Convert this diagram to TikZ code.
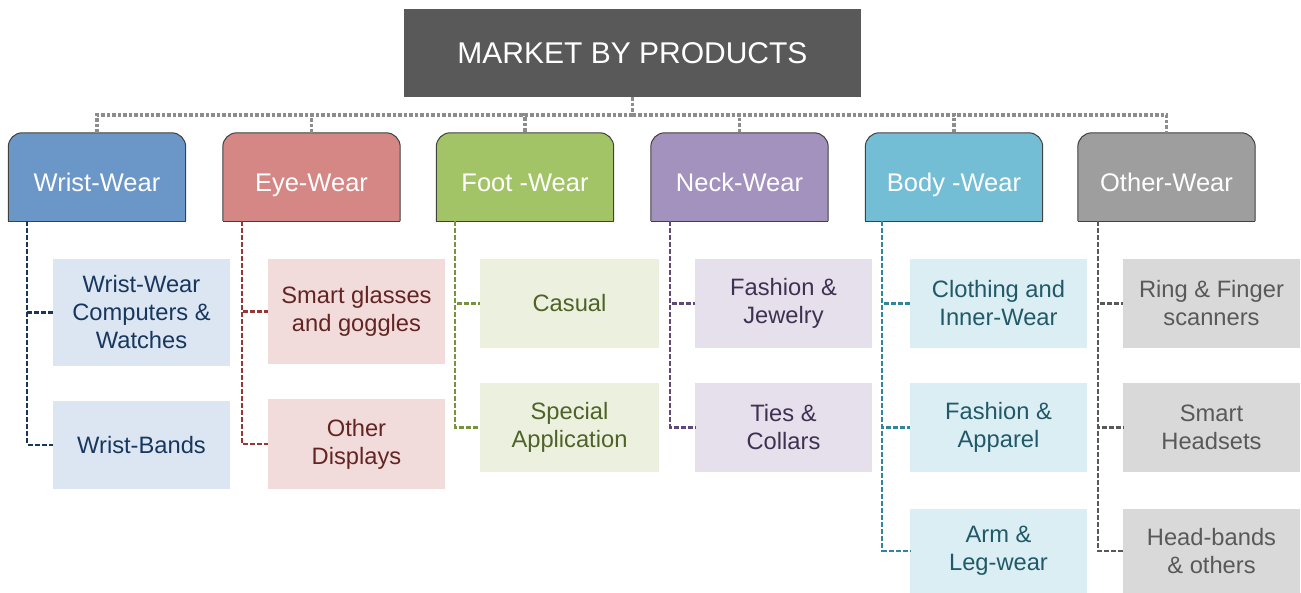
\documentclass[tikz,border=0pt]{standalone}
\usepackage{fontspec}
\setmainfont{Liberation Sans}
\usetikzlibrary{backgrounds}
\definecolor{titlec}{HTML}{595959}
\definecolor{busc}{HTML}{8C8C8C}
\definecolor{hwc}{HTML}{6A96C8}
\definecolor{hec}{HTML}{D48784}
\definecolor{hfc}{HTML}{A3C466}
\definecolor{hnc}{HTML}{A391BE}
\definecolor{hbc}{HTML}{74BED5}
\definecolor{hoc}{HTML}{9E9E9E}
\definecolor{fw}{HTML}{DCE6F2}
\definecolor{fe}{HTML}{F2DCDB}
\definecolor{ff}{HTML}{EBF1DE}
\definecolor{fn}{HTML}{E5E0EC}
\definecolor{fb}{HTML}{DBEEF4}
\definecolor{fo}{HTML}{D9D9D9}
\definecolor{tw}{HTML}{17375E}
\definecolor{te}{HTML}{632523}
\definecolor{tf}{HTML}{4F6228}
\definecolor{tn}{HTML}{3F3151}
\definecolor{tb}{HTML}{215968}
\definecolor{to}{HTML}{595959}
\definecolor{lw}{HTML}{17375E}
\definecolor{le}{HTML}{953735}
\definecolor{lf}{HTML}{77933C}
\definecolor{ln}{HTML}{5F497A}
\definecolor{lb}{HTML}{31859C}
\definecolor{lo}{HTML}{595959}
\begin{document}
\begin{tikzpicture}[x=1pt,y=-1pt,
  titlebox/.style={fill=titlec, text=white, minimum width=457pt, minimum height=88pt, inner sep=0pt, font=\fontsize{30}{36}\selectfont},
  hdr/.style={minimum width=177pt, minimum height=88pt, inner sep=0pt, text=white, text height=30pt, text depth=0pt, font=\fontsize{25.5}{30}\selectfont},
  child/.style={minimum width=177pt, inner sep=0pt, align=center, font=\fontsize{23.7}{28}\selectfont},
  bus/.style={draw=busc, line width=3.5pt, dash pattern=on 3.5pt off 2pt},
  conn/.style={draw=#1, line width=2.3pt, dash pattern=on 5pt off 2pt}
]
\useasboundingbox (0,0) rectangle (1301,593);

\node[titlebox] (title) at (632.5,53) {MARKET BY PRODUCTS};

\node[hdr] (hw) at (97,177) {Wrist-Wear};
\node[hdr] (he) at (311.5,177) {Eye-Wear};
\node[hdr] (hf) at (525,177) {Foot -Wear};
\node[hdr] (hn) at (739.5,177) {Neck-Wear};
\node[hdr] (hb) at (954,177) {Body -Wear};
\node[hdr] (ho) at (1166.5,177) {Other-Wear};

\begin{scope}[on background layer]
\foreach \n/\c in {hw/hwc,he/hec,hf/hfc,hn/hnc,hb/hbc,ho/hoc}{
  \fill[\c, rounded corners=14pt] (\n.south west) -- (\n.north west) -- (\n.north east) -- (\n.south east);
  \draw[black!75, line width=1pt, rounded corners=14pt] (\n.south west) -- (\n.north west) -- (\n.north east) -- (\n.south east);
  \draw[black!75, line width=1pt] (\n.south east) -- (\n.south west);
}
\end{scope}

% children
\node[child, fill=fw, text=tw, minimum height=107pt] (w1) at (141.5,312.5) {Wrist-Wear\\Computers \&\\Watches};
\node[child, fill=fw, text=tw, minimum height=88pt] (w2) at (141.5,445) {Wrist-Bands};

\node[child, fill=fe, text=te, minimum height=105pt] (e1) at (356.5,311.5) {Smart glasses\\and goggles};
\node[child, fill=fe, text=te, minimum height=90pt] (e2) at (356.5,444) {Other\\Displays};

\node[child, fill=ff, text=tf, minimum height=89pt, minimum width=179pt] (f1) at (569.5,303.5) {Casual};
\node[child, fill=ff, text=tf, minimum height=89pt, minimum width=179pt] (f2) at (569.5,427.5) {Special\\Application};

\node[child, fill=fn, text=tn, minimum height=89pt] (n1) at (783.5,303.5) {Fashion \&\\Jewelry};
\node[child, fill=fn, text=tn, minimum height=89pt] (n2) at (783.5,427.5) {Ties \&\\Collars};

\node[child, fill=fb, text=tb, minimum height=89pt] (b1) at (998.5,303.5) {Clothing and\\Inner-Wear};
\node[child, fill=fb, text=tb, minimum height=89pt] (b2) at (998.5,427.5) {Fashion \&\\Apparel};
\node[child, fill=fb, text=tb, minimum height=84pt] (b3) at (998.5,551) {Arm \&\\Leg-wear};

\node[child, fill=fo, text=to, minimum height=89pt] (o1) at (1211.5,303.5) {Ring \& Finger\\scanners};
\node[child, fill=fo, text=to, minimum height=89pt] (o2) at (1211.5,427.5) {Smart\\Headsets};
\node[child, fill=fo, text=to, minimum height=84pt] (o3) at (1211.5,551) {Head-bands\\\& others};

% bus
\coordinate (bus) at (632.5,115);
\draw[bus] (title.south) -- (bus);
\foreach \n in {hw,he,hf,hn,hb,ho}{
  \draw[bus] (bus) -| (\n.north);
}

% connectors
\coordinate (cw) at ([xshift=19pt]hw.south west);
\coordinate (ce) at ([xshift=19pt]he.south west);
\coordinate (cf) at ([xshift=19pt]hf.south west);
\coordinate (cn) at ([xshift=19pt]hn.south west);
\coordinate (cb) at ([xshift=17pt]hb.south west);
\coordinate (co) at ([xshift=20pt]ho.south west);

\draw[conn=lw] (cw) |- (w1.west);
\draw[conn=lw] (cw) |- (w2.west);
\draw[conn=le] (ce) |- (e1.west);
\draw[conn=le] (ce) |- (e2.west);
\draw[conn=lf] (cf) |- (f1.west);
\draw[conn=lf] (cf) |- (f2.west);
\draw[conn=ln] (cn) |- (n1.west);
\draw[conn=ln] (cn) |- (n2.west);
\draw[conn=lb] (cb) |- (b1.west);
\draw[conn=lb] (cb) |- (b2.west);
\draw[conn=lb] (cb) |- (b3.west);
\draw[conn=lo] (co) |- (o1.west);
\draw[conn=lo] (co) |- (o2.west);
\draw[conn=lo] (co) |- (o3.west);
\end{tikzpicture}
\end{document}
